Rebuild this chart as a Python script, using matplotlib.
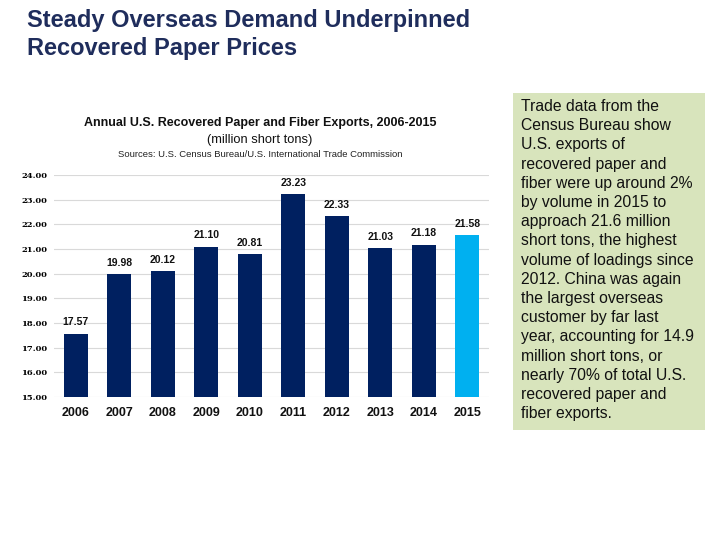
import numpy as np
import matplotlib
matplotlib.use("Agg")
from matplotlib import pyplot as plt
from matplotlib.patches import Rectangle

years = ['2006', '2007', '2008', '2009', '2010', '2011', '2012', '2013', '2014', '2015']
exports = [17.57, 19.98, 20.12, 21.10, 20.81, 23.23, 22.33, 21.03, 21.18, 21.58]
yticks = [15, 16, 17, 18, 19, 20, 21, 22, 23, 24]

navy = '#002060'
light = '#00B0F0'
colors = [navy] * 9 + [light]

plt.rcParams['font.family'] = ['Liberation Sans', 'DejaVu Sans']
fig = plt.figure(figsize=(7.2, 5.4), dpi=100)

# headline
fig.text(27 / 720, 1 - 9 / 540, 'Steady Overseas Demand Underpinned\nRecovered Paper Prices',
         ha='left', va='top', fontsize=17, fontweight='bold', color='#1F2D5C',
         linespacing=1.27)

# chart titles
fig.text(260 / 720, 1 - 123 / 540, 'Annual U.S. Recovered Paper and Fiber Exports, 2006-2015',
         ha='center', va='center', fontsize=9.0, fontweight='bold', color='#111111')
fig.text(260 / 720, 1 - 140 / 540, '(million short tons)',
         ha='center', va='center', fontsize=9.3, color='#111111')
fig.text(260 / 720, 1 - 155 / 540, 'Sources: U.S. Census Bureau/U.S. International Trade Commission',
         ha='center', va='center', fontsize=6.8, color='#222222')

# bar chart
ax = fig.add_axes([54 / 720, 1 - 397 / 540, 435 / 720, 222 / 540])
x = np.arange(len(years))
ax.bar(x, exports, width=0.55, color=colors, zorder=3)
ax.set_xlim(-0.5, len(years) - 0.5)
ax.set_ylim(15, 24)
ax.set_yticks(yticks)
ax.set_yticklabels(['%.2f' % v for v in yticks], fontsize=6, fontweight='bold',
                   family=['DejaVu Serif'])
ax.set_xticks(x)
ax.set_xticklabels(years, fontsize=9, fontweight='bold', color='#111111')
ax.tick_params(axis='both', length=0)
ax.tick_params(axis='y', pad=5)
ax.tick_params(axis='x', pad=7)
ax.grid(axis='y', color='#D9D9D9', linewidth=0.8, zorder=0)
for s in ax.spines.values():
    s.set_visible(False)
for xi, v in zip(x, exports):
    ax.text(xi, v + 0.25, '%.2f' % v, ha='center', va='bottom', fontsize=7.5,
            fontweight='bold', color='#111111')

# text box
fig.patches.append(Rectangle((513 / 720, 1 - 430 / 540), 192 / 720, 337 / 540,
                             transform=fig.transFigure, facecolor='#D8E4BC',
                             edgecolor='none'))
body = ("Trade data from the\nCensus Bureau show\nU.S. exports of\nrecovered paper and\n"
        "fiber were up around 2%\nby volume in 2015 to\napproach 21.6 million\n"
        "short tons, the highest\nvolume of loadings since\n2012. China was again\n"
        "the largest overseas\ncustomer by far last\nyear, accounting for 14.9\n"
        "million short tons, or\nnearly 70% of total U.S.\nrecovered paper and\nfiber exports.")
fig.text(521 / 720, 1 - 99 / 540, body, ha='left', va='top', fontsize=11.3,
         color='#111111', linespacing=1.35)

fig.savefig('out.png', dpi=100)
